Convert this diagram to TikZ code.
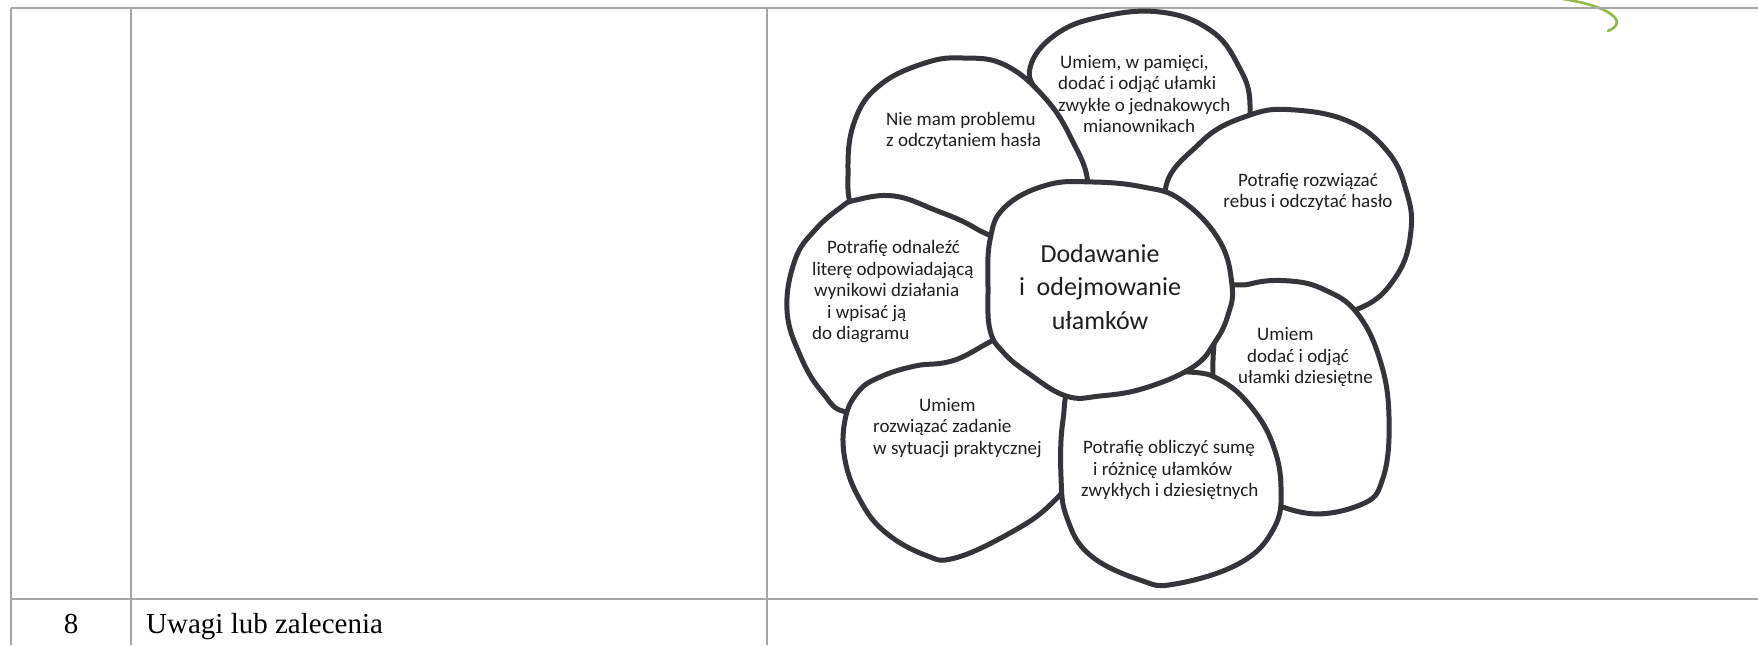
\documentclass[tikz,border=0pt]{standalone}
\usepackage{fontspec}
\setmainfont{Liberation Serif}
\newfontfamily\petalfont{Carlito}
\definecolor{rulegray}{HTML}{A6A6A6}
\definecolor{inkgray}{HTML}{34343A}
\definecolor{textgray}{HTML}{1E1E1E}
\definecolor{leafgreen}{HTML}{8DBB43}
\begin{document}
\begin{tikzpicture}[x=1pt,y=-1pt,
  rule/.style={draw=rulegray, line width=2pt},
  petal/.style={draw=inkgray, fill=white, line width=5pt, line join=round},
  petaltext/.style={font=\petalfont\fontsize{19}{21.5}\selectfont, text=textgray, inner sep=0pt},
  hubtext/.style={font=\petalfont\fontsize{26}{33.5}\selectfont, text=textgray, inner sep=0pt, align=center},
  celltext/.style={font=\fontsize{29}{33}\selectfont, text=black, inner sep=0pt}]
\useasboundingbox (0,0) rectangle (1758,645);
\clip (0,0) rectangle (1758,645);

% green swirl at the top edge
\draw[leafgreen, line width=2.6pt, line cap=round]
  (1556,-2) .. controls (1610,5) and (1630,22) .. (1608,31);

% table rules
\draw[rule] (10.5,7.5) -- (1758,7.5);
\draw[rule] (10.5,7.5) -- (10.5,645);
\draw[rule] (131,7.5) -- (131,645);
\draw[rule] (767,7.5) -- (767,645);
\draw[rule] (10.5,599) -- (1758,599);

% petals, back to front
% top petal
\draw[petal] plot[smooth cycle, tension=0.7] coordinates {
  (1040,100) (1030,68) (1055,35) (1100,17) (1160,12) (1210,30) (1238,65)
  (1250,105) (1240,160) (1200,200) (1130,205) (1065,160)};
% upper left petal
\draw[petal] plot[smooth cycle, tension=0.7] coordinates {
  (856,215) (848,170) (855,120) (880,85) (925,63) (963,58) (1005,65)
  (1045,98) (1072,140) (1088,185) (1080,240) (1000,265) (900,250)};
% left petal
\draw[petal] plot[smooth cycle, tension=0.7] coordinates {
  (856,200) (894,196) (935,210) (975,228) (1010,255) (1015,320) (980,375)
  (900,400) (848,412) (822,392) (800,355) (787,310) (795,260) (815,230) (840,208)};
% lower left petal
\draw[petal] plot[smooth cycle, tension=0.7] coordinates {
  (845,420) (858,392) (880,377) (915,366) (955,360) (1010,335) (1050,350)
  (1080,420) (1075,470) (1050,505) (1010,533) (955,558) (925,555) (885,532)
  (860,500) (845,460)};
% upper right petal
\draw[petal] plot[smooth cycle, tension=0.7] coordinates {
  (1165,200) (1200,143) (1250,115) (1295,110) (1350,122) (1388,152) (1406,190)
  (1411,230) (1397,275) (1360,308) (1300,315) (1210,290)};
% lower right petal
\draw[petal] plot[smooth cycle, tension=0.7] coordinates {
  (1222,300) (1250,284) (1290,281) (1325,290) (1357,313) (1380,360) (1389,417)
  (1383,478) (1360,505) (1300,512) (1250,480) (1215,400)};
% bottom petal
\draw[petal] plot[smooth cycle, tension=0.7] coordinates {
  (1189,372) (1222,381) (1252,408) (1273,445) (1281,488) (1274,528) (1240,563)
  (1175,584) (1140,580) (1090,555) (1067,518) (1061,477) (1063,420) (1075,385)
  (1130,375)};
% centre
\draw[petal] plot[smooth cycle, tension=0.7] coordinates {
  (988,290) (990,240) (1005,207) (1047,185) (1093,182) (1143,187) (1181,200)
  (1219,240) (1232,285) (1228,315) (1215,342) (1193,367) (1145,388) (1100,396)
  (1066,396) (1028,373) (1003,352) (990,330)};

% labels
\node[hubtext] (hub) at (1100,287) {Dodawanie\\i\ \ odejmowanie\\ułamków};
\node[petaltext, align=left, anchor=west] (haslo) at (886,131)
  {Nie mam problemu\\z odczytaniem hasła};
\node[petaltext, align=left, anchor=west] (pamiec) at (1058,94)
  {\hspace*{2pt}Umiem, w pamięci,\\dodać i odjąć ułamki\\zwykłe o jednakowych\\\hspace*{25pt}mianownikach};
\node[petaltext, align=center] (rebus) at (1308,192)
  {Potrafię rozwiązać\\rebus i odczytać hasło};
\node[petaltext, align=left, anchor=west] (dziesietne) at (1238,357)
  {\hspace*{19pt}Umiem\\\hspace*{9pt}dodać i odjąć\\ułamki dziesiętne};
\node[petaltext, align=left, anchor=west] (suma) at (1081,470)
  {\hspace*{2pt}Potrafię obliczyć sumę\\\hspace*{12pt}i różnicę ułamków\\zwykłych i dziesiętnych};
\node[petaltext, align=left, anchor=west] (zadanie) at (873,428)
  {\hspace*{46pt}Umiem\\rozwiązać zadanie\\w sytuacji praktycznej};
\node[petaltext, align=left, anchor=west] (litera) at (812,292)
  {\hspace*{15pt}Potrafię odnaleźć\\literę odpowiadającą\\\hspace*{2pt}wynikowi działania\\\hspace*{15pt}i wpisać ją\\do diagramu};

% last table row
\node[celltext, anchor=base] (nr) at (71,633) {8};
\node[celltext, anchor=base west] (uwagi) at (146,633) {Uwagi lub zalecenia};
\end{tikzpicture}
\end{document}
